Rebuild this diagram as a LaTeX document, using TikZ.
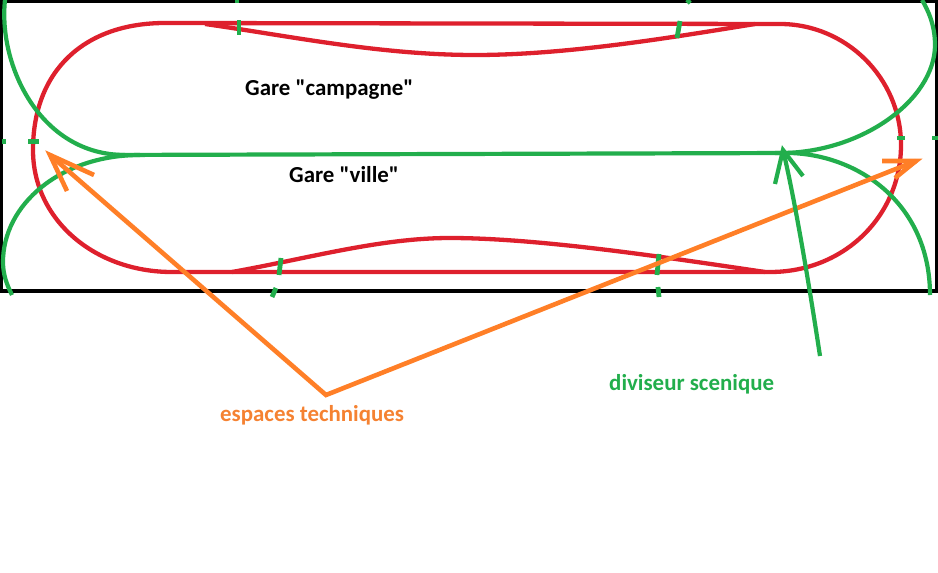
\documentclass[tikz,border=0pt]{standalone}
\usepackage{fontspec}
\newfontfamily\garefont{Carlito}
\definecolor{voie}{RGB}{222,32,45}
\definecolor{decor}{RGB}{34,174,76}
\definecolor{tech}{RGB}{255,127,39}
\definecolor{techtexte}{RGB}{245,130,50}
\tikzset{
  voie/.style={draw=voie, line width=4.3pt},
  decor/.style={draw=decor, line width=4.2pt},
  tech/.style={draw=tech, line width=4.6pt},
  repere/.style={draw=decor, line width=4.8pt},
  label/.style={font=\garefont\bfseries\fontsize{22.9}{26}\selectfont, inner sep=0pt},
}
\begin{document}
\begin{tikzpicture}[x=1pt, y=-1pt]
    \useasboundingbox (0, 0) rectangle (938, 573) ;
    % cadre
    \draw[line width=4.8pt] (1, 1) rectangle (937, 291) ;
    % voie
    \draw[voie] (165, 23) -- (780, 24)
      .. controls (846, 24) and (901, 78) .. (901, 145)
      .. controls (901, 215) and (845, 272) .. (770, 272)
      -- (172, 272)
      .. controls (95, 272) and (33, 220) .. (33, 150)
      .. controls (33, 70) and (85, 23) .. (165, 23) ;
    % gares
    \draw[voie] (205, 24) .. controls (290, 36) and (380, 55) .. (475, 55)
      .. controls (570, 55) and (680, 36) .. (755, 24) ;
    \draw[voie] (232, 272) .. controls (310, 258) and (380, 238) .. (450, 238)
      .. controls (540, 238) and (670, 258) .. (765, 272) ;
    % diviseur
    \draw[decor] (110, 155) -- (790, 153) ;
    \draw[decor] (5, 0) .. controls (-2, 65) and (40, 155) .. (125, 155) ;
    \draw[decor] (140, 155) .. controls (60, 155) and (3, 205) .. (3, 262)
      .. controls (3, 275) and (7, 285) .. (12, 295) ;
    \draw[decor] (775, 153) .. controls (860, 155) and (935, 100) .. (935, 45)
      .. controls (935, 25) and (928, 10) .. (922, 0) ;
    \draw[decor] (790, 153) .. controls (860, 155) and (930, 205) .. (930, 295) ;
    % reperes
    \draw[repere] (239, 20) -- (239, 35) ;
    \draw[repere] (237, 0) -- (237, 3) ;
    \draw[repere] (680, 21) -- (677, 38) ;
    \draw[repere] (690, 0) -- (687, 3) ;
    \draw[repere] (281, 258) -- (279, 275) ;
    \draw[repere] (276, 288) -- (272, 297) ;
    \draw[repere] (659, 254) -- (657, 275) ;
    \draw[repere] (658, 287) -- (659, 297) ;
    \draw[repere] (28, 141.5) -- (39, 141.5) ;
    \draw[repere] (2, 141.5) -- (6, 141.5) ;
    \draw[repere] (897, 138) -- (905, 138) ;
    \draw[repere] (932, 138) -- (938, 138) ;
    % fleches
    \coordinate (tech0) at (326, 395) ;
    \coordinate (techG) at (50, 155) ;
    \coordinate (techD) at (916, 161) ;
    \coordinate (div0) at (820, 356) ;
    \coordinate (divP) at (783, 150) ;
    \draw[tech] (techG) -- (tech0) -- (techD) ;
    \draw[tech] (94, 175) -- (techG) -- (67, 191) ;
    \draw[tech] (882, 161) -- (techD) -- (895, 178) ;
    \draw[decor] (div0) .. controls (810, 290) and (795, 200) .. (divP) ;
    \draw[decor] (775, 184) -- (divP) -- (803, 176) ;
    % textes
    \node[label, anchor=west] (campagne) at (245, 89.5) {Gare "campagne"} ;
    \node[label, anchor=west] (ville) at (289, 174.5) {Gare "ville"} ;
    \node[label, anchor=west, text=techtexte] (espaces) at (220, 415) {espaces techniques} ;
    \node[label, anchor=west, text=decor] (diviseur) at (609, 384) {diviseur scenique} ;
  \end{tikzpicture}
\end{document}
